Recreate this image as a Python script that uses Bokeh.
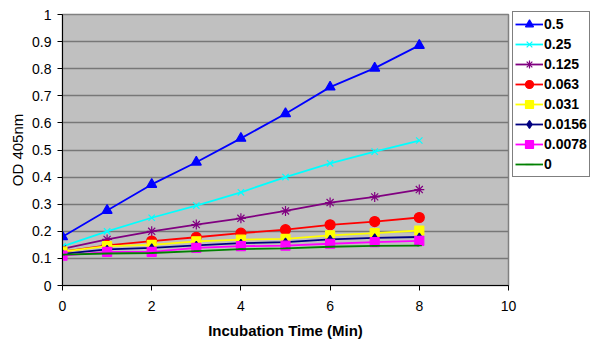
from bokeh.plotting import figure
from bokeh.models import (Legend, LegendItem, FixedTicker, CustomJSTickFormatter, Range1d)
from bokeh.embed import file_html
from bokeh.resources import INLINE

time_min = [0, 1, 2, 3, 4, 5, 6, 7, 8]
series_names = ["0.5", "0.25", "0.125", "0.063", "0.031", "0.0156", "0.0078", "0"]
od_05 = [0.180, 0.277, 0.373, 0.455, 0.543, 0.634, 0.732, 0.802, 0.886]
od_025 = [0.144, 0.200, 0.250, 0.295, 0.344, 0.400, 0.451, 0.494, 0.535]
od_0125 = [0.135, 0.170, 0.200, 0.225, 0.248, 0.275, 0.306, 0.327, 0.354]
od_0063 = [0.125, 0.148, 0.164, 0.178, 0.193, 0.206, 0.224, 0.236, 0.251]
od_0031 = [0.125, 0.145, 0.150, 0.163, 0.169, 0.172, 0.185, 0.193, 0.203]
od_00156 = [0.117, 0.133, 0.139, 0.148, 0.156, 0.160, 0.170, 0.176, 0.179]
od_00078 = [0.110, 0.124, 0.124, 0.139, 0.145, 0.147, 0.154, 0.160, 0.165]
od_0 = [0.114, 0.118, 0.120, 0.127, 0.134, 0.137, 0.143, 0.146, 0.147]

x_ticks = [0, 2, 4, 6, 8, 10]
y_ticks = [0, 0.1, 0.2, 0.3, 0.4, 0.5, 0.6, 0.7, 0.8, 0.9, 1.0]

FONT = "Liberation Sans"

p = figure(frame_width=446, frame_height=271, output_backend="svg", toolbar_location=None,
           x_range=Range1d(0, 10), y_range=Range1d(0, 1),
           min_border_left=62, min_border_right=0, min_border_top=14, min_border_bottom=65)
p.background_fill_color = "#C0C0C0"
p.border_fill_color = "white"
p.outline_line_color = "#808080"
p.outline_line_width = 1.5

p.xgrid.visible = False
p.ygrid.grid_line_color = "#777777"
p.ygrid.grid_line_width = 1.6
p.ygrid.ticker = FixedTicker(ticks=y_ticks)

for ax in (p.xaxis, p.yaxis):
    ax.axis_line_color = "black"
    ax.axis_line_width = 1
    ax.major_tick_line_color = "black"
    ax.major_tick_out = 5
    ax.major_tick_in = 0
    ax.minor_tick_line_color = None
    ax.major_label_text_font = FONT
    ax.major_label_text_font_size = "14px"
    ax.major_label_text_color = "black"
    ax.axis_label_text_font = FONT
    ax.axis_label_text_font_size = "15px"
    ax.axis_label_text_color = "black"

p.xaxis.axis_label_text_font_style = "bold"
p.yaxis.axis_label_text_font_style = "normal"
p.xaxis.ticker = FixedTicker(ticks=x_ticks)
p.yaxis.ticker = FixedTicker(ticks=y_ticks)
p.yaxis.formatter = CustomJSTickFormatter(code="return String(Math.round(tick*10)/10);")
p.xaxis.axis_label = "Incubation Time (Min)"
p.yaxis.axis_label = "OD 405nm"
p.xaxis.major_label_standoff = 10
p.xaxis.axis_label_standoff = 8
p.yaxis.major_label_standoff = 6
p.yaxis.axis_label_standoff = 3

specs = [
    (od_05, "#0000FF", "triangle", 10),
    (od_025, "#00FFFF", "x", 9),
    (od_0125, "#800080", "asterisk", 10),
    (od_0063, "#FF0000", "circle", 10),
    (od_0031, "#FFFF00", "square", 9),
    (od_00156, "#000080", "diamond", 8),
    (od_00078, "magenta", "square", 9),
    (od_0, "#008000", "dash", 5),
]

items = []
for name, (vals, col, mk, sz) in zip(series_names, specs):
    ln = p.line(time_min, vals, line_color=col, line_width=1.8)
    sc = p.scatter(time_min, vals, marker=mk, size=sz, fill_color=col, line_color=col,
                   line_width=1.2)
    items.append(LegendItem(label=name, renderers=[ln, sc]))

legend = Legend(items=items, location=(4, 108), orientation="vertical")
legend.border_line_color = "black"
legend.border_line_width = 1
legend.background_fill_color = "white"
legend.background_fill_alpha = 1
legend.label_text_font = FONT
legend.label_text_font_size = "14px"
legend.label_text_font_style = "bold"
legend.label_text_color = "black"
legend.glyph_width = 28
legend.glyph_height = 20
legend.label_height = 20
legend.label_standoff = 1
legend.spacing = 0
legend.padding = 2
legend.margin = 0
p.add_layout(legend, "right")

open("out.html", "w").write(file_html(p, INLINE))
